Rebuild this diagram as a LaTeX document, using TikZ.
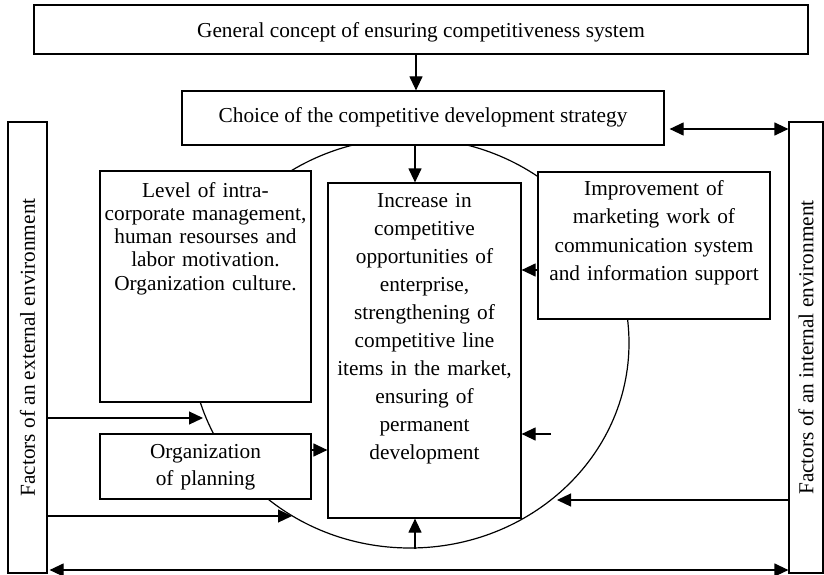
\documentclass[tikz,border=0pt]{standalone}
\usepackage{fontspec}
\setmainfont{Liberation Serif}
\usetikzlibrary{arrows.meta,shapes.geometric,calc}
\begin{document}
\begin{tikzpicture}[x=1pt,y=-1pt,
  box/.style={draw,line width=1.2pt,fill=white,inner sep=0pt},
  txt/.style={inner sep=0pt,anchor=base,align=center},
  arr/.style={line width=1.2pt,-{Triangle[length=14pt,width=13pt]}},
  dbl/.style={line width=1.2pt,{Triangle[length=14pt,width=13pt]}-{Triangle[length=14pt,width=13pt]}},
  fA/.style={font=\fontsize{21.3pt}{28.1pt}\selectfont}]
\useasboundingbox (0,0) rectangle (824,575);
% ring
\node[draw,line width=1.2pt,ellipse,inner sep=0pt,minimum width=438pt,minimum height=410pt] (ring) at (410,343) {};
% boxes
\node[box,minimum width=774pt,minimum height=49pt] (topbox) at (421,29.5) {};
\node[box,minimum width=482pt,minimum height=54pt] (choice) at (423,118) {};
\node[box,minimum width=211pt,minimum height=231pt] (lvl) at (205.5,286.5) {};
\node[box,minimum width=193pt,minimum height=335pt] (inc) at (424.5,350.5) {};
\node[box,minimum width=232pt,minimum height=147pt] (imp) at (654,245.5) {};
\node[box,minimum width=211pt,minimum height=65pt] (org) at (205.5,466.5) {};
\node[box,minimum width=39pt,minimum height=451pt] (lfac) at (27.5,347.5) {};
\node[box,minimum width=34pt,minimum height=451pt] (rfac) at (806,347.5) {};
% texts
\node[txt,fA] (ttop) at (421,38) {General concept of ensuring competitiveness system};
\node[txt,fA] (tchoice) at (423,123) {Choice of the competitive development strategy};
\node[txt,text width=205pt,font=\fontsize{21.3pt}{23.3pt}\selectfont] (tlvl) at (205.5,197)
  {Level of intra-\\corporate management,\\human resourses and\\labor motivation.\\Organization culture.};
\node[txt,text width=190pt,font=\fontsize{21.3pt}{28.1pt}\selectfont] (tinc) at (424.5,207)
  {Increase in\\competitive\\opportunities of\\enterprise,\\strengthening of\\competitive line\\items in the market,\\ensuring of\\permanent\\development};
\node[txt,text width=228pt,font=\fontsize{21.3pt}{28.5pt}\selectfont] (timp) at (654,195)
  {Improvement of\\marketing work of\\communication system\\and information support};
\node[txt,text width=205pt,font=\fontsize{21.3pt}{27pt}\selectfont] (torg) at (205.5,458)
  {Organization\\of planning};
\node[inner sep=0pt,rotate=90,fA] (tlfac) at (lfac.center) {Factors of an external environment};
\node[inner sep=0pt,rotate=90,fA] (trfac) at (rfac.center) {Factors of an internal environment};
% free ends
\coordinate (a5) at (551,434);
\coordinate (a6) at (557,500);
\coordinate (a7) at (203,418);
\coordinate (a9) at (292,516);
\coordinate (a11) at (0,570);
% connectors
\draw[arr] ([xshift=-5pt]topbox.south) -- ([xshift=-5pt]topbox.south |- choice.north);
\draw[arr] ([xshift=-8pt]choice.south) -- ([xshift=-8pt]choice.south |- inc.north);
\draw[dbl] ([xshift=5pt,yshift=-11pt]choice.east) -- ([yshift=-11pt]choice.east -| rfac.west);
\draw[arr] ([yshift=-24.5pt]imp.west) -- ([yshift=-24.5pt]imp.west -| inc.east);
\draw[arr] (a5) -- (a5 -| inc.east);
\draw[arr] (a6 -| rfac.west) -- (a6);
\draw[arr] (a7 -| lfac.east) -- (a7);
\draw[arr] ([yshift=16.5pt]org.east) -- ([yshift=16.5pt]org.east -| inc.west);
\draw[arr] (a9 -| lfac.east) -- (a9);
\draw[arr] ([xshift=-9.5pt]inc.south |- ring.south) -- ([xshift=-9.5pt]inc.south);
\draw[dbl] ([xshift=2pt]a11 -| lfac.east) -- (a11 -| rfac.west);
\end{tikzpicture}
\end{document}
